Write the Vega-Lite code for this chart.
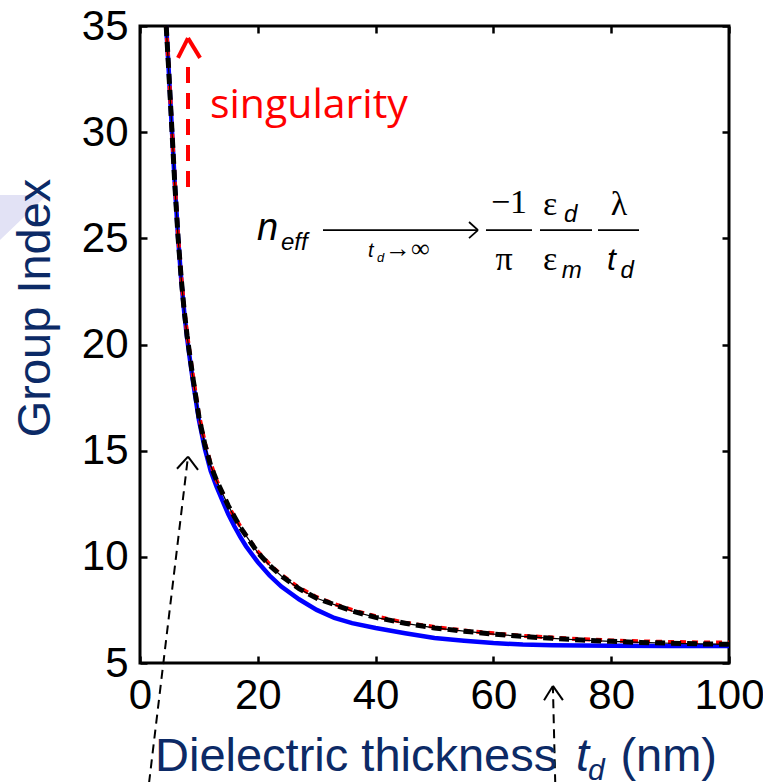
{
  "$schema": "https://vega.github.io/schema/vega-lite/v6.json",
  "width": 589,
  "height": 637,
  "autosize": "none",
  "padding": {"left": 140, "top": 26, "right": 34, "bottom": 119},
  "background": "white",
  "config": {
    "view": {"stroke": "black", "strokeWidth": 3},
    "axis": {"grid": false, "domain": false, "title": null}
  },
  "datasets": {
    "curves": [
      {"t": 4.45, "n": 35.0, "s": "blue"}, {"t": 4.9, "n": 32.8, "s": "blue"}, {"t": 5.4, "n": 30.2, "s": "blue"}, {"t": 5.9, "n": 27.6, "s": "blue"}, {"t": 6.45, "n": 25.1, "s": "blue"}, {"t": 7.0, "n": 23.05, "s": "blue"}, {"t": 7.5, "n": 21.55, "s": "blue"}, {"t": 8.0, "n": 20.3, "s": "blue"}, {"t": 8.5, "n": 19.25, "s": "blue"}, {"t": 9.0, "n": 18.25, "s": "blue"}, {"t": 9.5, "n": 17.35, "s": "blue"}, {"t": 10.0, "n": 16.45, "s": "blue"}, {"t": 11.0, "n": 15.1, "s": "blue"}, {"t": 12.0, "n": 14.05, "s": "blue"}, {"t": 13.0, "n": 13.3, "s": "blue"}, {"t": 14.0, "n": 12.65, "s": "blue"}, {"t": 15.0, "n": 12.0, "s": "blue"}, {"t": 16.0, "n": 11.45, "s": "blue"}, {"t": 17.0, "n": 10.95, "s": "blue"}, {"t": 18.0, "n": 10.5, "s": "blue"}, {"t": 20.0, "n": 9.75, "s": "blue"}, {"t": 22.0, "n": 9.12, "s": "blue"}, {"t": 24.0, "n": 8.6, "s": "blue"}, {"t": 27.0, "n": 8.0, "s": "blue"}, {"t": 30.0, "n": 7.5, "s": "blue"}, {"t": 33.0, "n": 7.12, "s": "blue"}, {"t": 36.0, "n": 6.88, "s": "blue"}, {"t": 40.0, "n": 6.65, "s": "blue"}, {"t": 45.0, "n": 6.4, "s": "blue"}, {"t": 50.0, "n": 6.18, "s": "blue"}, {"t": 55.0, "n": 6.05, "s": "blue"}, {"t": 60.0, "n": 5.94, "s": "blue"}, {"t": 65.0, "n": 5.87, "s": "blue"}, {"t": 70.0, "n": 5.84, "s": "blue"}, {"t": 75.0, "n": 5.82, "s": "blue"}, {"t": 80.0, "n": 5.81, "s": "blue"}, {"t": 90.0, "n": 5.8, "s": "blue"}, {"t": 100.0, "n": 5.8, "s": "blue"},
      {"t": 4.45, "n": 35.0, "s": "black"}, {"t": 4.9, "n": 32.8, "s": "black"}, {"t": 5.4, "n": 30.2, "s": "black"}, {"t": 5.9, "n": 27.6, "s": "black"}, {"t": 6.45, "n": 25.1, "s": "black"}, {"t": 7.0, "n": 23.1, "s": "black"}, {"t": 7.5, "n": 21.6, "s": "black"}, {"t": 8.0, "n": 20.4, "s": "black"}, {"t": 8.5, "n": 19.4, "s": "black"}, {"t": 9.0, "n": 18.4, "s": "black"}, {"t": 9.5, "n": 17.5, "s": "black"}, {"t": 10.0, "n": 16.6, "s": "black"}, {"t": 11.0, "n": 15.3, "s": "black"}, {"t": 12.0, "n": 14.3, "s": "black"}, {"t": 13.0, "n": 13.6, "s": "black"}, {"t": 14.0, "n": 13.0, "s": "black"}, {"t": 15.0, "n": 12.4, "s": "black"}, {"t": 16.0, "n": 11.9, "s": "black"}, {"t": 17.0, "n": 11.4, "s": "black"}, {"t": 18.0, "n": 11.0, "s": "black"}, {"t": 20.0, "n": 10.2, "s": "black"}, {"t": 22.0, "n": 9.6, "s": "black"}, {"t": 24.0, "n": 9.1, "s": "black"}, {"t": 27.0, "n": 8.5, "s": "black"}, {"t": 30.0, "n": 8.05, "s": "black"}, {"t": 33.0, "n": 7.75, "s": "black"}, {"t": 36.0, "n": 7.45, "s": "black"}, {"t": 40.0, "n": 7.15, "s": "black"}, {"t": 45.0, "n": 6.87, "s": "black"}, {"t": 50.0, "n": 6.65, "s": "black"}, {"t": 55.0, "n": 6.5, "s": "black"}, {"t": 60.0, "n": 6.36, "s": "black"}, {"t": 65.0, "n": 6.25, "s": "black"}, {"t": 70.0, "n": 6.16, "s": "black"}, {"t": 75.0, "n": 6.08, "s": "black"}, {"t": 80.0, "n": 6.02, "s": "black"}, {"t": 85.0, "n": 5.97, "s": "black"}, {"t": 90.0, "n": 5.93, "s": "black"}, {"t": 95.0, "n": 5.9, "s": "black"}, {"t": 100.0, "n": 5.88, "s": "black"},
      {"t": 4.45, "n": 35.0, "s": "red"}, {"t": 4.9, "n": 32.8, "s": "red"}, {"t": 5.4, "n": 30.3, "s": "red"}, {"t": 5.9, "n": 27.7, "s": "red"}, {"t": 6.45, "n": 25.2, "s": "red"}, {"t": 7.0, "n": 23.2, "s": "red"}, {"t": 7.5, "n": 21.7, "s": "red"}, {"t": 8.0, "n": 20.5, "s": "red"}, {"t": 8.5, "n": 19.5, "s": "red"}, {"t": 9.0, "n": 18.5, "s": "red"}, {"t": 9.5, "n": 17.6, "s": "red"}, {"t": 10.0, "n": 16.7, "s": "red"}, {"t": 11.0, "n": 15.4, "s": "red"}, {"t": 12.0, "n": 14.4, "s": "red"}, {"t": 13.0, "n": 13.6, "s": "red"}, {"t": 14.0, "n": 13.0, "s": "red"}, {"t": 15.0, "n": 12.4, "s": "red"}, {"t": 16.0, "n": 11.9, "s": "red"}, {"t": 17.0, "n": 11.45, "s": "red"}, {"t": 18.0, "n": 11.0, "s": "red"}, {"t": 20.0, "n": 10.25, "s": "red"}, {"t": 22.0, "n": 9.65, "s": "red"}, {"t": 24.0, "n": 9.15, "s": "red"}, {"t": 27.0, "n": 8.55, "s": "red"}, {"t": 30.0, "n": 8.1, "s": "red"}, {"t": 33.0, "n": 7.78, "s": "red"}, {"t": 36.0, "n": 7.5, "s": "red"}, {"t": 40.0, "n": 7.2, "s": "red"}, {"t": 45.0, "n": 6.9, "s": "red"}, {"t": 50.0, "n": 6.7, "s": "red"}, {"t": 55.0, "n": 6.53, "s": "red"}, {"t": 60.0, "n": 6.4, "s": "red"}, {"t": 65.0, "n": 6.28, "s": "red"}, {"t": 70.0, "n": 6.2, "s": "red"}, {"t": 75.0, "n": 6.12, "s": "red"}, {"t": 80.0, "n": 6.06, "s": "red"}, {"t": 85.0, "n": 6.02, "s": "red"}, {"t": 90.0, "n": 5.99, "s": "red"}, {"t": 95.0, "n": 5.97, "s": "red"}, {"t": 100.0, "n": 5.96, "s": "red"}
    ]
  },
  "data": {"name": "curves"},
  "encoding": {
    "x": {"field": "t", "type": "quantitative", "scale": {"domain": [0, 100], "nice": false, "zero": false}, "axis": null},
    "y": {"field": "n", "type": "quantitative", "scale": {"domain": [5, 35], "nice": false, "zero": false}, "axis": null}
  },
  "layer": [
    {
      "data": {"values": [{"t": -23.77, "n": 27.04, "n2": 24.92}, {"t": -15.79, "n": 27.04, "n2": 27.04}]},
      "mark": {"type": "area", "color": "#E2E2F5", "opacity": 1},
      "encoding": {"y2": {"field": "n2"}}
    },
    {
      "transform": [{"filter": "datum.s === 'blue'"}],
      "mark": {"type": "line", "color": "#0000FF", "strokeWidth": 4.5},
      "encoding": {
        "x": {"field": "t", "type": "quantitative", "scale": {"domain": [0, 100], "nice": false, "zero": false},
          "axis": {"orient": "bottom", "values": [0, 20, 40, 60, 80, 100], "tickSize": -7, "tickWidth": 2.5, "tickColor": "black", "labelFont": "Liberation Sans", "labelFontSize": 42, "labelColor": "black", "labelPadding": 19, "labelFlush": false, "labelOverlap": false, "title": null}},
        "y": {"field": "n", "type": "quantitative", "scale": {"domain": [5, 35], "nice": false, "zero": false},
          "axis": {"orient": "left", "values": [5, 10, 15, 20, 25, 30, 35], "tickSize": -7, "tickWidth": 2.5, "tickColor": "black", "labelFont": "Liberation Sans", "labelFontSize": 42, "labelColor": "black", "labelPadding": 19, "labelFlush": false, "labelOverlap": false, "title": null}}
      }
    },
    {
      "transform": [{"filter": "datum.s === 'red'"}],
      "mark": {"type": "line", "color": "#FF0000", "strokeWidth": 4, "strokeDash": [6, 6]}
    },
    {
      "transform": [{"filter": "datum.s === 'black'"}],
      "mark": {"type": "line", "color": "black", "strokeWidth": 5, "strokeDash": [10, 6]}
    },
    {
      "transform": [{"filter": "datum.s === 'black'"}],
      "mark": {"type": "line", "color": "black", "strokeWidth": 1.2}
    },
    {
      "transform": [{"filter": "datum.s === 'black'"}],
      "mark": {"type": "point", "opacity": 0},
      "encoding": {
        "x": {"field": "t", "type": "quantitative", "scale": {"domain": [0, 100], "nice": false, "zero": false},
          "axis": {"orient": "top", "values": [0, 20, 40, 60, 80, 100], "tickSize": -7, "tickWidth": 2.5, "tickColor": "black", "labels": false, "title": null}},
        "y": {"field": "n", "type": "quantitative", "scale": {"domain": [5, 35], "nice": false, "zero": false},
          "axis": {"orient": "right", "values": [5, 10, 15, 20, 25, 30, 35], "tickSize": -7, "tickWidth": 2.5, "tickColor": "black", "labels": false, "title": null}}
      }
    },
    {
      "data": {"values": [{"t": 8.15, "n": 27.42, "t2": 8.15, "n2": 33.4}]},
      "mark": {"type": "rule", "color": "#FF0000", "strokeWidth": 4, "strokeDash": [16, 10]},
      "encoding": {"x2": {"field": "t2"}, "y2": {"field": "n2"}}
    },
    {
      "data": {"values": [{"t": 6.45, "n": 33.5, "t2": 8.15, "n2": 34.43}, {"t": 10.2, "n": 33.5, "t2": 8.15, "n2": 34.43}]},
      "mark": {"type": "rule", "color": "#FF0000", "strokeWidth": 4},
      "encoding": {"x2": {"field": "t2"}, "y2": {"field": "n2"}}
    },
    {
      "data": {"values": [{"t": 1.53, "n": -0.66, "t2": 8.15, "n2": 14.72}, {"t": 70.5, "n": -0.66, "t2": 70.1, "n2": 3.92}]},
      "mark": {"type": "rule", "color": "black", "strokeWidth": 2, "strokeDash": [9, 6]},
      "encoding": {"x2": {"field": "t2"}, "y2": {"field": "n2"}}
    },
    {
      "data": {"values": [{"t": 6.28, "n": 14.15, "t2": 8.15, "n2": 14.72}, {"t": 9.85, "n": 14.1, "t2": 8.15, "n2": 14.72}, {"t": 68.6, "n": 3.25, "t2": 70.1, "n2": 3.92}, {"t": 71.8, "n": 3.25, "t2": 70.1, "n2": 3.92}]},
      "mark": {"type": "rule", "color": "black", "strokeWidth": 2},
      "encoding": {"x2": {"field": "t2"}, "y2": {"field": "n2"}}
    },
    {
      "data": {"values": [{"t": 31.07, "n": 25.39, "t2": 57.39, "n2": 25.39}, {"t": 55.86, "n": 25.77, "t2": 57.39, "n2": 25.39}, {"t": 55.86, "n": 25.01, "t2": 57.39, "n2": 25.39}, {"t": 58.74, "n": 25.39, "t2": 66.55, "n2": 25.39}, {"t": 67.91, "n": 25.39, "t2": 76.74, "n2": 25.39}, {"t": 77.76, "n": 25.39, "t2": 84.72, "n2": 25.39}]},
      "mark": {"type": "rule", "color": "black", "strokeWidth": 1.8},
      "encoding": {"x2": {"field": "t2"}, "y2": {"field": "n2"}}
    },
    {
      "data": {"values": [{"t": 11.88, "n": 30.67, "label": "singularity"}]},
      "mark": {"type": "text", "font": "Open Sans", "fontSize": 41, "color": "#FF0000", "align": "left", "baseline": "alphabetic"},
      "encoding": {"text": {"field": "label"}}
    },
    {
      "data": {"values": [{"t": 19.86, "n": 24.92, "label": "n"}]},
      "mark": {"type": "text", "font": "Liberation Sans", "fontStyle": "italic", "fontSize": 38, "color": "black", "align": "left", "baseline": "alphabetic"},
      "encoding": {"text": {"field": "label"}}
    },
    {
      "data": {"values": [{"t": 23.94, "n": 24.45, "label": "eff"}]},
      "mark": {"type": "text", "font": "Liberation Sans", "fontStyle": "italic", "fontSize": 24, "color": "black", "align": "left", "baseline": "alphabetic"},
      "encoding": {"text": {"field": "label"}}
    },
    {
      "data": {"values": [{"t": 38.71, "n": 24.12, "label": "t"}]},
      "mark": {"type": "text", "font": "Liberation Sans", "fontStyle": "italic", "fontSize": 20, "color": "black", "align": "left", "baseline": "alphabetic"},
      "encoding": {"text": {"field": "label"}}
    },
    {
      "data": {"values": [{"t": 40.24, "n": 23.88, "label": "d"}]},
      "mark": {"type": "text", "font": "Liberation Sans", "fontStyle": "italic", "fontSize": 13, "color": "black", "align": "left", "baseline": "alphabetic"},
      "encoding": {"text": {"field": "label"}}
    },
    {
      "data": {"values": [{"t": 41.6, "n": 24.12, "label": "→∞"}]},
      "mark": {"type": "text", "font": "Liberation Serif", "fontSize": 26, "color": "black", "align": "left", "baseline": "alphabetic"},
      "encoding": {"text": {"field": "label"}}
    },
    {
      "data": {"values": [{"t": 62.65, "n": 26.19, "label": "−1"}, {"t": 61.8, "n": 23.51, "label": "π"}, {"t": 81.32, "n": 26.1, "label": "λ"}]},
      "mark": {"type": "text", "font": "Liberation Serif", "fontSize": 34, "color": "black", "align": "center", "baseline": "alphabetic"},
      "encoding": {"text": {"field": "label"}}
    },
    {
      "data": {"values": [{"t": 68.42, "n": 26.1, "label": "ε"}, {"t": 68.42, "n": 23.51, "label": "ε"}]},
      "mark": {"type": "text", "font": "Liberation Serif", "fontSize": 34, "color": "black", "align": "left", "baseline": "alphabetic"},
      "encoding": {"text": {"field": "label"}}
    },
    {
      "data": {"values": [{"t": 72.0, "n": 25.77, "label": "d"}, {"t": 71.6, "n": 23.13, "label": "m"}, {"t": 81.6, "n": 23.13, "label": "d"}]},
      "mark": {"type": "text", "font": "Liberation Sans", "fontStyle": "italic", "fontSize": 24, "color": "black", "align": "left", "baseline": "alphabetic"},
      "encoding": {"text": {"field": "label"}}
    },
    {
      "data": {"values": [{"t": 79.29, "n": 23.51, "label": "t"}]},
      "mark": {"type": "text", "font": "Liberation Sans", "fontStyle": "italic", "fontSize": 32, "color": "black", "align": "left", "baseline": "alphabetic"},
      "encoding": {"text": {"field": "label"}}
    },
    {
      "data": {"values": [{"t": -15.28, "n": 21.72, "label": "Group Index"}]},
      "mark": {"type": "text", "font": "Liberation Sans", "fontSize": 47, "color": "#0C2A66", "align": "center", "baseline": "alphabetic", "angle": 270},
      "encoding": {"text": {"field": "label"}}
    },
    {
      "data": {"values": [{"t": 2.55, "n": -0.09, "label": "Dielectric thickness"}]},
      "mark": {"type": "text", "font": "Liberation Sans", "fontSize": 47, "color": "#0C2A66", "align": "left", "baseline": "alphabetic"},
      "encoding": {"text": {"field": "label"}}
    },
    {
      "data": {"values": [{"t": 74.02, "n": -0.09, "label": "t"}]},
      "mark": {"type": "text", "font": "Liberation Sans", "fontStyle": "italic", "fontSize": 47, "color": "#0C2A66", "align": "left", "baseline": "alphabetic"},
      "encoding": {"text": {"field": "label"}}
    },
    {
      "data": {"values": [{"t": 76.06, "n": -0.52, "label": "d"}]},
      "mark": {"type": "text", "font": "Liberation Sans", "fontStyle": "italic", "fontSize": 30, "color": "#0C2A66", "align": "left", "baseline": "alphabetic"},
      "encoding": {"text": {"field": "label"}}
    },
    {
      "data": {"values": [{"t": 97.96, "n": -0.09, "label": "(nm)"}]},
      "mark": {"type": "text", "font": "Liberation Sans", "fontSize": 47, "color": "#0C2A66", "align": "right", "baseline": "alphabetic"},
      "encoding": {"text": {"field": "label"}}
    }
  ],
  "resolve": {"axis": {"x": "independent", "y": "independent"}}
}
